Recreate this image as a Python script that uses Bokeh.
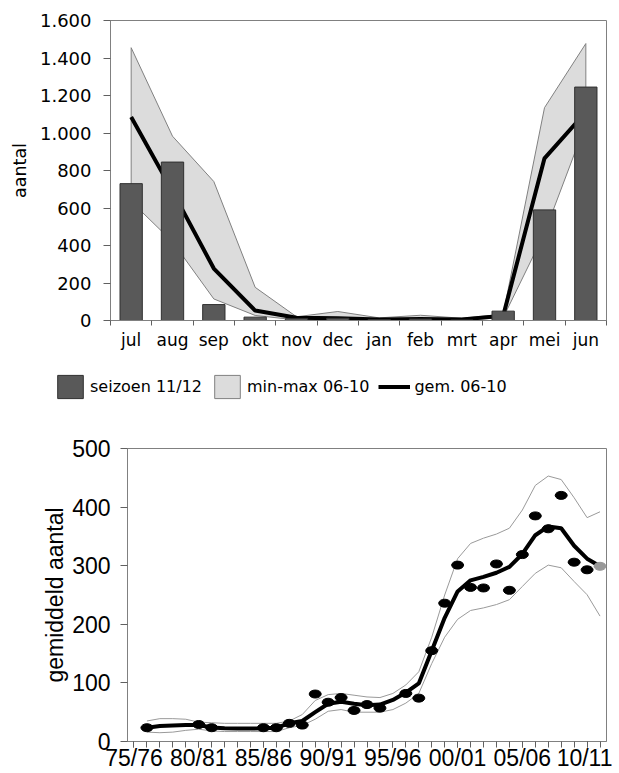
from bokeh.plotting import figure
from bokeh.models import (Range1d, FixedTicker, Legend, LegendItem, ColumnDataSource)
from bokeh.embed import file_html
from bokeh.resources import INLINE

# ---------------- data: top chart (monthly) ----------------
maanden = ["jul", "aug", "sep", "okt", "nov", "dec", "jan", "feb", "mrt", "apr", "mei", "jun"]
seizoen_11_12 = [730, 845, 85, 18, 10, 12, 5, 8, 3, 50, 590, 1245]
gem_06_10 = [1085, 690, 277, 53, 15, 12, 5, 8, 6, 25, 865, 1112]
max_06_10 = [1455, 983, 741, 177, 20, 48, 14, 28, 12, 33, 1135, 1477]
min_06_10 = [635, 420, 115, 27, 3, 5, 2, 3, 2, 15, 466, 1050]
y_ticks_top = [0, 200, 400, 600, 800, 1000, 1200, 1400, 1600]

# ---------------- data: bottom chart (seasons) ----------------
seizoenen = ["75/76", "76/77", "77/78", "78/79", "79/80", "80/81", "81/82", "82/83", "83/84",
             "84/85", "85/86", "86/87", "87/88", "88/89", "89/90", "90/91", "91/92", "92/93",
             "93/94", "94/95", "95/96", "96/97", "97/98", "98/99", "99/00", "00/01", "01/02",
             "02/03", "03/04", "04/05", "05/06", "06/07", "07/08", "08/09", "09/10", "10/11", "11/12"]
nan = float("nan")
gemiddeld = [nan, 23.5, nan, nan, nan, 29, 23.5, nan, nan, nan, 23.5, 23.5, 31, 28, 81, 67, 75, 53,
             63, 57, nan, 82, 74, 155, 236, 301, 263, 262, 303, 258, 319, 385, 363, 420, 306, 293, 299]
trend = [nan, 23.5, 26.5, 27.5, 28, 28, 24, 22.5, 22, 22, 22.5, 23.5, 31, 35, 50, 64.5, 68, 64.5,
         62, 63, 71, 83.5, 99, 155, 211, 256, 275, 281, 288, 298, 320, 352, 367, 364, 334, 312, 299]
boven = [nan, 35, 39, 39, 38, 33, 32, 31, 31, 31, 31, 31, 35, 46, 70, 80, 82, 79, 76, 75, 82, 96.5,
         119, 178, 250, 312, 338, 347, 354, 364, 395, 437, 453, 447, 416, 382, 392]
onder = [nan, 16, 15, 16, 19, 21, 18, 17, 17, 17, 17, 17, 23.5, 27.5, 38, 51.6, 54.5, 50, 50, 50,
         54.5, 65.5, 82, 133, 178, 208.5, 223.6, 228, 233.7, 242, 264.6, 287, 301, 296.5, 273, 250.5, 214]
y_ticks_bottom = [0, 100, 200, 300, 400, 500]
label_every = 5

BAR_FILL, BAR_LINE = "#595959", "#303030"
BAND_FILL, BAND_LINE = "#dcdcdc", "#808080"

# ---------------- top figure ----------------
FT = "DejaVu Sans"
n = len(maanden)
xs = list(range(n))
band_x = xs + xs[::-1]
band_y = max_06_10 + min_06_10[::-1]

p1 = figure(width=612, height=352, output_backend="svg", toolbar_location=None,
            x_range=Range1d(-0.5, n - 0.5), y_range=Range1d(0, 1600),
            min_border_left=110, min_border_right=6, min_border_top=20, min_border_bottom=30)
p1.background_fill_color = "white"
p1.border_fill_color = "white"
p1.outline_line_color = "#808080"
p1.xgrid.grid_line_color = None
p1.ygrid.grid_line_color = None

p1.patch(band_x, band_y, fill_color=BAND_FILL, line_color=BAND_LINE, line_width=1)
p1.line(xs, gem_06_10, line_color="black", line_width=4)
p1.vbar(x=xs, top=seizoen_11_12, width=0.54, fill_color=BAR_FILL, line_color=BAR_LINE, line_width=1)

p1.xaxis.ticker = FixedTicker(ticks=xs, minor_ticks=[i - 0.5 for i in range(n + 1)])
p1.xaxis.major_label_overrides = {i: mth for i, mth in enumerate(maanden)}
p1.xaxis.major_tick_out = 0
p1.xaxis.major_tick_in = 0
p1.xaxis.minor_tick_out = 5
p1.xaxis.minor_tick_in = 0
p1.xaxis.major_label_standoff = 4
p1.xaxis.major_label_text_font = FT
p1.xaxis.major_label_text_font_size = "17px"

p1.yaxis.ticker = FixedTicker(ticks=y_ticks_top, minor_ticks=[])
p1.yaxis.major_label_overrides = {v: f"{v:,}".replace(",", ".") for v in y_ticks_top}
p1.yaxis.major_tick_out = 7
p1.yaxis.major_tick_in = 0
p1.yaxis.major_label_standoff = 12
p1.yaxis.major_label_text_font = FT
p1.yaxis.major_label_text_font_size = "18px"
p1.yaxis.axis_label = "aantal"
p1.yaxis.axis_label_text_font = FT
p1.yaxis.axis_label_text_font_size = "17.5px"
p1.yaxis.axis_label_text_font_style = "normal"
p1.yaxis.axis_label_standoff = 7
for ax in (p1.xaxis[0], p1.yaxis[0]):
    ax.axis_line_color = "#808080"
    ax.major_tick_line_color = "#606060"
    ax.minor_tick_line_color = "#606060"
    ax.major_label_text_color = "black"
    ax.axis_label_text_color = "black"

# ---------------- legend strip (same series; ranges chosen so only the legend is visible) ----------------
pl = figure(width=612, height=68, output_backend="svg", toolbar_location=None,
            x_range=Range1d(-3000, -2999), y_range=Range1d(-3000, -2999),
            x_axis_type=None, y_axis_type=None, min_border=0)
pl.outline_line_color = None
pl.xgrid.grid_line_color = None
pl.ygrid.grid_line_color = None
pl.background_fill_color = "white"
pl.border_fill_color = "white"
lg_bar = pl.vbar(x=xs, top=seizoen_11_12, width=0.54, fill_color=BAR_FILL, line_color=BAR_LINE,
                 line_width=1)
lg_band = pl.patch(band_x, band_y, fill_color=BAND_FILL, line_color=BAND_LINE, line_width=1)
lg_line = pl.line(xs, gem_06_10, line_color="black", line_width=4)
legend = Legend(items=[LegendItem(label="seizoen 11/12", renderers=[lg_bar]),
                       LegendItem(label="min-max 06-10", renderers=[lg_band]),
                       LegendItem(label="gem. 06-10", renderers=[lg_line])],
                orientation="horizontal", location=(54, 19),
                border_line_color=None, background_fill_alpha=0,
                glyph_width=32, glyph_height=29, label_standoff=4, spacing=9,
                label_text_font=FT, label_text_font_size="16px", label_text_color="black",
                padding=10, margin=0)
pl.add_layout(legend, "center")

# ---------------- bottom figure ----------------
FB = "Liberation Sans"
m = len(seizoenen)
xs2 = list(range(m))
p2 = figure(width=612, height=353, output_backend="svg", toolbar_location=None,
            x_range=Range1d(-0.5, m - 0.5), y_range=Range1d(0, 500),
            min_border_left=127, min_border_right=6, min_border_top=28, min_border_bottom=29)
p2.background_fill_color = "white"
p2.border_fill_color = "white"
p2.outline_line_color = "#808080"
p2.xgrid.grid_line_color = None
p2.ygrid.grid_line_color = None

p2.line(xs2, boven, line_color="#9a9a9a", line_width=1)
p2.line(xs2, onder, line_color="#9a9a9a", line_width=1)
p2.line(xs2, trend, line_color="black", line_width=4)
kleuren = ["black"] * (m - 1) + ["#999999"]
src = ColumnDataSource(dict(x=xs2, y=gemiddeld, c=kleuren))
p2.ellipse(x="x", y="y", width=12, height=8, width_units="screen", height_units="screen",
           fill_color="c", line_color="c", source=src)

p2.xaxis.ticker = FixedTicker(ticks=[i for i in xs2 if i % label_every == 0], minor_ticks=xs2)
p2.xaxis.major_label_overrides = {i: seizoenen[i] for i in xs2 if i % label_every == 0}
p2.xaxis.major_tick_out = 6
p2.xaxis.major_tick_in = 0
p2.xaxis.minor_tick_out = 6
p2.xaxis.minor_tick_in = 0
p2.xaxis.major_label_standoff = -3
p2.xaxis.major_label_text_font = FB
p2.xaxis.major_label_text_font_size = "23px"

p2.yaxis.ticker = FixedTicker(ticks=y_ticks_bottom, minor_ticks=[])
p2.yaxis.major_label_overrides = {v: str(v) for v in y_ticks_bottom}
p2.yaxis.major_tick_out = 7
p2.yaxis.major_tick_in = 0
p2.yaxis.major_label_standoff = 10
p2.yaxis.major_label_text_font = FB
p2.yaxis.major_label_text_font_size = "23px"
p2.yaxis.axis_label = "gemiddeld aantal"
p2.yaxis.axis_label_text_font = FB
p2.yaxis.axis_label_text_font_size = "23px"
p2.yaxis.axis_label_text_font_style = "normal"
p2.yaxis.axis_label_standoff = 1
for ax in (p2.xaxis[0], p2.yaxis[0]):
    ax.axis_line_color = "#808080"
    ax.major_tick_line_color = "#606060"
    ax.minor_tick_line_color = "#606060"
    ax.major_label_text_color = "black"
    ax.axis_label_text_color = "black"

open("out.html", "w").write(file_html([p1, pl, p2], INLINE))
